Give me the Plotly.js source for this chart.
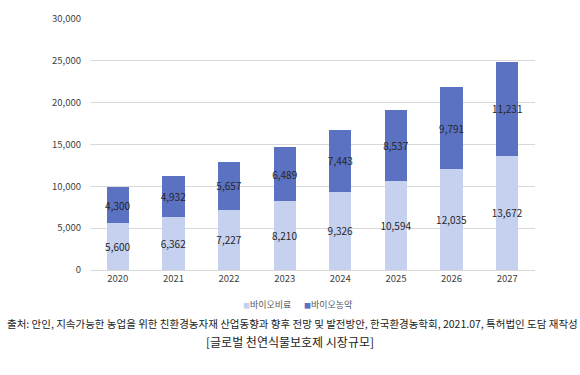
<!DOCTYPE html>
<html><head><meta charset="utf-8">
<script src="https://cdn.plot.ly/plotly-3.0.1.min.js"></script>
<style>html,body{margin:0;padding:0;background:#fff;}#chart{width:580px;height:375px;}</style>
</head><body><div id="chart"></div>
<script>
var years = ['2020','2021','2022','2023','2024','2025','2026','2027'];
var bioFertilizer = [5600, 6362, 7227, 8210, 9326, 10594, 12035, 13672];
var bioPesticide = [4300, 4932, 5657, 6489, 7443, 8537, 9791, 11231];
var seriesNames = ['바이오비료', '바이오농약'];
var seriesColors = ['#c6d1ef', '#5b72c2'];
var yTicks = [0, 5000, 10000, 15000, 20000, 25000, 30000];
var sourceText = '출처: 안인, 지속가능한 농업을 위한 친환경농자재 산업동향과 향후 전망 및 발전방안, 한국환경농학회, 2021.07, 특허법인 도담 재작성';
var chartTitle = '[글로벌 천연식물보호제 시장규모]';

var fmt = function(v){ return v.toLocaleString('en-US'); };
var FONT = '"Noto Sans CJK KR", "Noto Sans", sans-serif';

var common = {
  type: 'bar', x: years, textposition: 'inside', insidetextanchor: 'middle',
  textangle: 0, constraintext: 'none', cliponaxis: false, showlegend: false,
  textfont: {family: FONT, size: 10, color: '#262626'}, hoverinfo: 'skip'
};
var t1 = Object.assign({}, common, {
  name: seriesNames[0], y: bioFertilizer, text: bioFertilizer.map(fmt),
  marker: {color: seriesColors[0]}
});
var t2 = Object.assign({}, common, {
  name: seriesNames[1], y: bioPesticide, text: bioPesticide.map(fmt),
  marker: {color: seriesColors[1]}
});

function px2x(px){ return (px - 90) / 445; }
function px2y(py){ return -(py - 270) / 251; }

var legendAnn = seriesNames.map(function(n, i){
  return {xref: 'paper', yref: 'paper', x: px2x([241, 302][i]), y: px2y(305), xanchor: 'left', yanchor: 'middle',
    showarrow: false, font: {family: FONT, size: 9, color: '#595959'},
    text: '<span style="color:' + seriesColors[i] + ';font-size:7px">■</span>' + n};
});

var layout = {
  width: 580, height: 375,
  margin: {l: 90, r: 45, t: 19, b: 105},
  paper_bgcolor: '#ffffff', plot_bgcolor: '#ffffff',
  barmode: 'stack', bargap: 0.6,
  font: {family: FONT, size: 9.5, color: '#595959'},
  showlegend: false,
  xaxis: {type: 'category', showgrid: false, showline: true, linecolor: '#d9d9d9', linewidth: 1,
          ticks: '', tickfont: {family: FONT, size: 9.5, color: '#404040'}, fixedrange: true},
  yaxis: {range: [0, 30000], tickvals: yTicks, ticktext: yTicks.map(fmt), showgrid: true,
          gridcolor: '#d9d9d9', gridwidth: 1, zeroline: false, showline: false, ticks: '',
          ticklabelstandoff: 8, tickfont: {family: FONT, size: 9.5, color: '#404040'}, fixedrange: true},
  annotations: legendAnn.concat([
    {xref: 'paper', yref: 'paper', x: px2x(292), y: px2y(323), xanchor: 'center', yanchor: 'middle',
     text: sourceText, showarrow: false, font: {family: FONT, size: 10.5, color: '#222222'}},
    {xref: 'paper', yref: 'paper', x: px2x(290), y: px2y(341), xanchor: 'center', yanchor: 'middle',
     text: chartTitle, showarrow: false, font: {family: FONT, size: 12, color: '#222222'}}
  ])
};
Plotly.newPlot('chart', [t1, t2], layout, {displayModeBar: false, staticPlot: true});
</script></body></html>
